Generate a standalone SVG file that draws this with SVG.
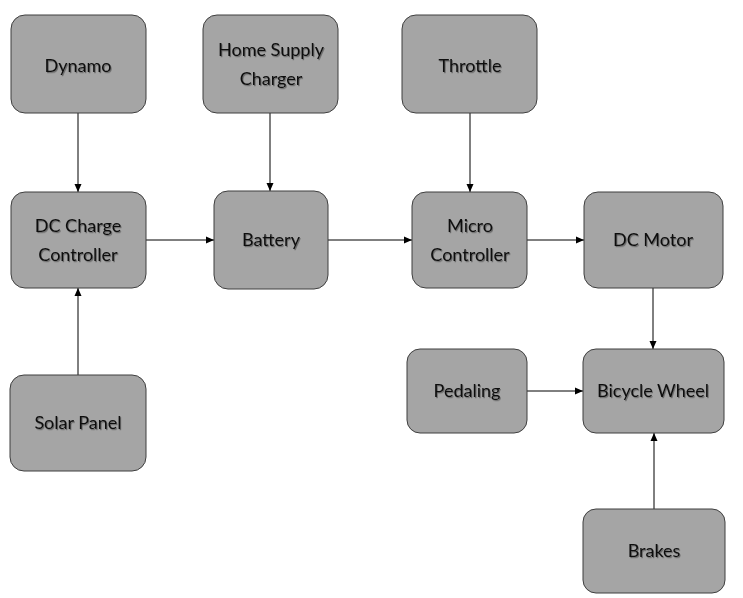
<svg xmlns="http://www.w3.org/2000/svg" width="743" height="598" viewBox="0 0 743 598">
<style>
.n rect{fill:#a5a5a5;stroke:#3f3f3f;stroke-width:1}
.n text{font-family:Lato,"Open Sans",sans-serif;font-size:18px;fill:#111;text-anchor:middle;filter:url(#sh)}
.c line{stroke:#000;stroke-width:1;marker-end:url(#a)}
</style>
<defs>
<marker id="a" viewBox="0 0 8 8" refX="8" refY="4" markerWidth="8" markerHeight="8" markerUnits="userSpaceOnUse" orient="auto"><path d="M0,0.5L8,4L0,7.5z" fill="#000"/></marker>
<filter id="sh" x="-10%" y="-20%" width="130%" height="150%"><feDropShadow dx="1" dy="1.2" stdDeviation="0.6" flood-color="#000" flood-opacity="0.35"/></filter>
</defs>
<rect width="743" height="598" fill="#fff"/>
<g class="c">
<line x1="78" y1="113" x2="78" y2="192"/>
<line x1="270" y1="113" x2="270" y2="191"/>
<line x1="470" y1="113" x2="470" y2="192"/>
<line x1="146" y1="240" x2="214" y2="240"/>
<line x1="328" y1="240" x2="412" y2="240"/>
<line x1="527" y1="240" x2="584" y2="240"/>
<line x1="78" y1="375" x2="78" y2="288"/>
<line x1="653" y1="288" x2="653" y2="349"/>
<line x1="527" y1="391" x2="583" y2="391"/>
<line x1="654" y1="509" x2="654" y2="433"/>
</g>
<g id="dynamo" class="n"><rect x="11" y="15" width="135" height="98" rx="14"/><text x="78" y="72">Dynamo</text></g>
<g id="home" class="n"><rect x="203" y="15" width="135" height="98" rx="14"/><text x="271" y="56">Home Supply</text><text x="271" y="85">Charger</text></g>
<g id="throttle" class="n"><rect x="402" y="15" width="135" height="98" rx="14"/><text x="470" y="72">Throttle</text></g>
<g id="dcc" class="n"><rect x="11" y="192" width="135" height="96" rx="14"/><text x="78" y="232">DC Charge</text><text x="78" y="261">Controller</text></g>
<g id="battery" class="n"><rect x="214" y="191" width="114" height="98" rx="14"/><text x="271" y="246">Battery</text></g>
<g id="micro" class="n"><rect x="412" y="192" width="115" height="96" rx="14"/><text x="470" y="232">Micro</text><text x="470" y="261">Controller</text></g>
<g id="motor" class="n"><rect x="584" y="192" width="139" height="96" rx="14"/><text x="653" y="246">DC Motor</text></g>
<g id="solar" class="n"><rect x="10" y="375" width="136" height="96" rx="14"/><text x="78" y="429">Solar Panel</text></g>
<g id="pedaling" class="n"><rect x="407" y="349" width="120" height="84" rx="13"/><text x="467" y="397">Pedaling</text></g>
<g id="wheel" class="n"><rect x="583" y="349" width="141" height="84" rx="13"/><text x="653" y="397">Bicycle Wheel</text></g>
<g id="brakes" class="n"><rect x="583" y="509" width="142" height="84" rx="13"/><text x="654" y="557">Brakes</text></g>
</svg>
